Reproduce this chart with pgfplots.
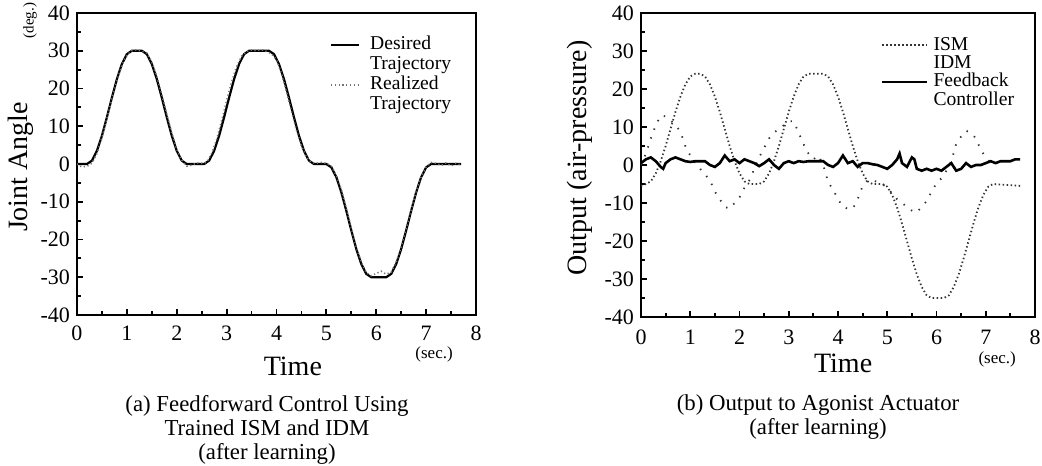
\documentclass[border=0pt]{standalone}
\usepackage{fontspec}
\setmainfont{Liberation Serif}
\usepackage{pgfplots}
\pgfplotsset{compat=1.18}

\pgfplotsset{
  panel/.style={
    anchor=south west, scale only axis, clip mode=individual,
    xmin=0, xmax=8, ymin=-40, ymax=40,
    xtick={0,...,8}, ytick={-40,-30,...,40},
    minor x tick num=1, minor y tick num=1,
    tick pos=left, tick align=inside,
    axis line style={line width=1.1pt},
    major tick length=3pt, minor tick length=2pt,
    every tick/.style={line width=0.9pt, black},
    ticklabel style={font=\fontsize{11}{12}\selectfont},
    /pgf/number format/assume math mode=true,
    label style={font=\fontsize{14}{16}\selectfont},
    legend cell align=left,
    legend style={draw=none, fill=none, inner sep=0pt, outer sep=0pt,
      anchor=north west, font=\fontsize{9.8}{10}\selectfont,
      nodes={inner sep=0pt, text height=7pt, text depth=2.2pt}},
  },
}

\begin{document}
\begin{tikzpicture}[x=1pt,y=1pt]
\useasboundingbox (0,0) rectangle (521,232.5);

% ---------- (a) joint angle ----------
\begin{axis}[panel,
  at={(38.5pt,75pt)}, width=199.5pt, height=151pt,
  xticklabel style={yshift=-2pt},
  xlabel={Time}, xlabel style={at={(rel axis cs:0.541,-0.169)}, anchor=center},
  ylabel={Joint Angle}, ylabel style={at={(rel axis cs:-0.140,0.49)}, anchor=center, rotate=0},
  legend style={at={(rel axis cs:0.634,0.924)}, row sep=0.8pt, column sep=5pt},
  legend image code/.code={\draw[#1] (0pt,0pt) -- (14pt,0pt);},
]
\addplot[black, line width=1.1pt] coordinates {
(0,0) (0.2,0) (0.3,0.9) (0.4,3.5) (0.5,7.5) (0.6,12.4) (0.7,17.6) (0.8,22.5) (0.9,26.5) (1.0,29.1) (1.1,30)
(1.3,30) (1.4,29.1) (1.5,26.5) (1.6,22.5) (1.7,17.6) (1.8,12.4) (1.9,7.5) (2.0,3.5) (2.1,0.9) (2.2,0)
(2.55,0) (2.65,0.9) (2.75,3.5) (2.85,7.5) (2.95,12.4) (3.05,17.6) (3.15,22.5) (3.25,26.5) (3.35,29.1) (3.45,30)
(3.85,30) (3.95,29.1) (4.05,26.5) (4.15,22.5) (4.25,17.6) (4.35,12.4) (4.45,7.5) (4.55,3.5) (4.65,0.9) (4.75,0)
(5.0,0) (5.1,-0.9) (5.2,-3.5) (5.3,-7.5) (5.4,-12.4) (5.5,-17.6) (5.6,-22.5) (5.7,-26.5) (5.8,-29.1) (5.9,-30)
(6.2,-30) (6.3,-29.1) (6.4,-26.5) (6.5,-22.5) (6.6,-17.6) (6.7,-12.4) (6.8,-7.5) (6.9,-3.5) (7.0,-0.9) (7.1,0)
(7.7,0)
};
\addlegendentry{Desired}
\addlegendimage{empty legend}
\addlegendentry{Trajectory}
\addplot[black!55, line width=0.8pt, dash pattern=on 0.6pt off 1.3pt] coordinates {
(0,0) (0.1,-0.8) (0.2,-0.6) (0.3,0.2) (0.4,2.8) (0.5,7.0) (0.6,12.0) (0.7,17.2) (0.8,22.0) (0.9,26.2)
(1.0,28.8) (1.1,30.0) (1.2,30.3) (1.3,29.8) (1.4,29.4) (1.5,27.0) (1.6,23.2) (1.7,18.4) (1.8,13.2) (1.9,8.2)
(2.0,4.0) (2.1,1.0) (2.2,-0.6) (2.3,-0.3) (2.4,0.3) (2.5,0.2) (2.6,0.4) (2.7,2.8) (2.8,6.5) (2.9,11.5)
(3.0,16.8) (3.1,21.8) (3.2,25.8) (3.3,28.6) (3.4,29.8) (3.5,30.2) (3.6,30.0) (3.7,30.3) (3.8,29.8) (3.9,29.2)
(4.0,27.6) (4.1,24.0) (4.2,19.2) (4.3,14.0) (4.4,9.0) (4.5,4.8) (4.6,1.8) (4.7,0.4) (4.8,0.2) (4.9,0.4)
(5.0,0.2) (5.1,-0.6) (5.2,-3.0) (5.3,-6.8) (5.4,-11.8) (5.5,-17.0) (5.6,-22.0) (5.7,-26.0) (5.8,-28.8) (5.9,-29.6)
(6.0,-29.0) (6.1,-28.4) (6.2,-29.2) (6.3,-28.6) (6.4,-26.0) (6.5,-22.0) (6.6,-17.2) (6.7,-12.0) (6.8,-7.2) (6.9,-3.4)
(7.0,-0.8) (7.1,0.4) (7.2,0.2) (7.3,-0.4) (7.4,0.3) (7.5,-0.5) (7.6,0.2) (7.7,-0.3)
};
\addlegendentry{Realized}
\addlegendimage{empty legend}
\addlegendentry{Trajectory}
\node[font=\fontsize{7.5}{8}\selectfont, rotate=90] at (rel axis cs:-0.118,0.975) {(deg.)};
\node[font=\fontsize{8.5}{10}\selectfont] at (rel axis cs:0.895,-0.129) {(sec.)};
\end{axis}

% ---------- (b) actuator output ----------
\begin{axis}[panel,
  at={(320.5pt,74pt)}, width=197pt, height=152pt,
  xticklabel style={yshift=-3pt},
  xlabel={Time}, xlabel style={at={(rel axis cs:0.513,-0.152)}, anchor=center},
  ylabel={Output (air-pressure)}, ylabel style={at={(rel axis cs:-0.155,0.523)}, anchor=center, rotate=0},
  legend style={at={(rel axis cs:0.609,0.924)}, row sep=0pt, column sep=2.5pt},
  legend image code/.code={\draw[#1] (0pt,0pt) -- (22.5pt,0pt);},
]
\addplot[black!80, line width=0.9pt, dash pattern=on 0.7pt off 1.3pt] coordinates {
(0,-5.5) (0.1,-5) (0.2,-4.3) (0.3,-2.2) (0.4,1.0) (0.5,5.0) (0.6,9.5) (0.7,14.0) (0.8,18.0) (0.9,21.2) (1.0,23.3) (1.1,24)
(1.2,24) (1.3,23.3) (1.4,21.2) (1.5,18.0) (1.6,14.0) (1.7,9.5) (1.8,5.0) (1.9,1.0) (2.0,-2.2) (2.1,-4.3) (2.2,-5)
(2.4,-5) (2.5,-4.3) (2.6,-2.2) (2.7,1.0) (2.8,5.0) (2.9,9.5) (3.0,14.0) (3.1,18.0) (3.2,21.2) (3.3,23.3) (3.4,24)
(3.7,24) (3.8,23.3) (3.9,21.2) (4.0,18.0) (4.1,14.0) (4.2,9.5) (4.3,5.0) (4.4,1.0) (4.5,-2.2) (4.6,-4.3) (4.7,-5)
(4.9,-5) (5.0,-5.7) (5.1,-7.9) (5.2,-11.2) (5.3,-15.4) (5.4,-20) (5.5,-24.6) (5.6,-28.8) (5.7,-32.1) (5.8,-34.3) (5.9,-35)
(6.15,-35) (6.25,-34.3) (6.35,-32.1) (6.45,-28.8) (6.55,-24.6) (6.65,-20) (6.75,-15.4) (6.85,-11.2) (6.95,-7.9) (7.05,-5.7) (7.15,-5)
(7.7,-5.5)
};
\addlegendentry{ISM}
\addplot[black!80, line width=0.9pt, dash pattern=on 0.7pt off 4pt, forget plot] coordinates {
(0,0) (0.1,3) (0.2,7) (0.3,10.5) (0.4,13) (0.5,12.8) (0.6,11.8) (0.7,10.5) (0.8,8.8) (0.9,5) (1.0,2.5)
(1.1,0.5) (1.2,-1) (1.3,-2.5) (1.4,-4) (1.5,-7) (1.6,-9) (1.7,-11) (1.8,-11.5) (1.9,-10) (2.0,-8.5)
(2.1,-6) (2.2,-4) (2.3,-1) (2.4,2) (2.5,4.5) (2.6,7) (2.7,8.5) (2.8,9.5) (2.9,10.5) (3.0,11.5)
(3.1,11.5) (3.2,8.5) (3.3,5.5) (3.4,3) (3.5,1.5) (3.6,2.5) (3.7,0) (3.8,-4.5) (3.9,-6.5) (4.0,-9)
(4.1,-11) (4.2,-11.5) (4.3,-11.5) (4.4,-9) (4.5,-5.5) (4.6,-4) (4.7,-4) (4.8,-4.5) (4.9,-5) (5.0,-6)
(5.1,-7.5) (5.2,-9) (5.3,-10) (5.4,-11) (5.5,-12) (5.6,-12.5) (5.7,-11) (5.8,-9.5) (5.9,-7) (6.0,-4.8)
(6.1,-3.5) (6.2,-1.5) (6.3,1) (6.4,5.5) (6.5,7.5) (6.6,9) (6.7,8.5) (6.8,7) (6.9,4) (7.0,2) (7.1,0.5)
};
\addlegendimage{empty legend}
\addlegendentry{IDM}
\addplot[black, line width=1.3pt] coordinates {
(0,0.5) (0.1,1.5) (0.2,2) (0.3,1) (0.4,-0.5) (0.45,-1) (0.5,0.5) (0.6,1.5) (0.7,2) (0.8,1.5) (0.9,1)
(1.0,0.8) (1.1,1) (1.2,1) (1.3,1) (1.4,0) (1.5,-0.5) (1.6,0.5) (1.7,2.5) (1.8,1) (1.9,1.5) (2.0,0.5)
(2.1,1.5) (2.2,1) (2.3,0.5) (2.4,-0.3) (2.5,0.5) (2.6,1.5) (2.7,0) (2.8,-1) (2.9,0.5) (3.0,1) (3.1,0.5)
(3.2,1) (3.3,0.8) (3.4,1) (3.5,1) (3.6,1) (3.7,1) (3.8,0) (3.9,-0.5) (4.0,0.5) (4.1,2.5) (4.2,0.5)
(4.3,1) (4.4,-0.5) (4.5,0.5) (4.6,0.5) (4.7,0.2) (4.8,0) (4.9,-0.5) (5.0,-1) (5.1,0) (5.2,1.5) (5.25,3)
(5.3,0.5) (5.4,-0.5) (5.5,2) (5.55,1.5) (5.6,-1) (5.7,-1.5) (5.8,-1) (5.9,-1.5) (6.0,-1) (6.1,-1.5)
(6.2,-0.5) (6.3,0.5) (6.4,-1.5) (6.5,-1) (6.6,0.5) (6.7,-0.5) (6.8,0) (6.9,0) (7.0,0.5) (7.1,1)
(7.2,0.5) (7.3,1) (7.4,1) (7.5,1) (7.6,1.5) (7.7,1.5)
};
\addlegendentry{Feedback}
\addlegendimage{empty legend}
\addlegendentry{Controller}
\node[font=\fontsize{8.5}{10}\selectfont] at (rel axis cs:0.904,-0.141) {(sec.)};
\end{axis}

% captions
\node[align=center, font=\fontsize{11.4}{12}\selectfont] at (133.5,17.5)
  {(a) Feedforward Control Using\\Trained ISM and IDM\\(after learning)};
\node[align=center, font=\fontsize{11.4}{12}\selectfont] at (409,23.75)
  {(b) Output to Agonist Actuator\\(after learning)};
\end{tikzpicture}
\end{document}
